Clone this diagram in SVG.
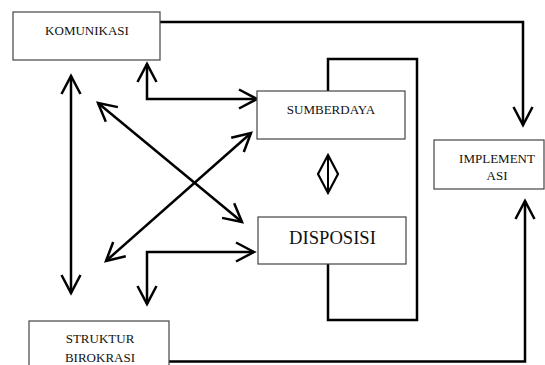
<svg xmlns="http://www.w3.org/2000/svg" width="545" height="365" viewBox="0 0 545 365">
<style>
.box{fill:#fff;stroke:#444;stroke-width:1.2}
.t{font-size:13px;fill:#111;text-anchor:middle}
.big{font-size:18.6px}
.c{fill:none;stroke:#000;stroke-width:2.5}
.a{marker-start:url(#ah);marker-end:url(#ah)}
.e{marker-end:url(#ah)}
</style>
<defs>
<marker id="ah" markerUnits="userSpaceOnUse" viewBox="-22 -12 24 24" markerWidth="24" markerHeight="24" refX="0" refY="0" orient="auto-start-reverse" overflow="visible">
<path d="M-18,-9.5 L0,0 L-18,9.5" fill="none" stroke="#000" stroke-width="2.5"/>
</marker>
</defs>
<g id="connectors">
<path class="c e" d="M160,22 H523 V125"/>
<path class="c e" d="M169,361.5 H525 V201"/>
<path class="c" d="M328,91 V59 H417 V320 H328 V264"/>
<path class="c a" d="M71,76 V293"/>
<path class="c a" d="M147,64 V99 H257"/>
<path class="c a" d="M98,103 L242,222"/>
<path class="c a" d="M106,261 L251,133"/>
<path class="c a" d="M147,304 V252 H254"/>
<g id="diamond">
<polygon points="328,155 338,174 328,193 318,174" fill="none" stroke="#000" stroke-width="2.2"/>
<line x1="328" y1="155" x2="328" y2="193" stroke="#000" stroke-width="2"/>
</g>
</g>
<g font-family="Liberation Serif, serif">
<g id="komunikasi">
<rect class="box" x="13" y="12" width="147" height="48"/>
<text class="t" x="87" y="35">KOMUNIKASI</text>
</g>
<g id="sumberdaya">
<rect class="box" x="257" y="91" width="148" height="48"/>
<text class="t" x="331" y="114">SUMBERDAYA</text>
</g>
<g id="disposisi">
<rect class="box" x="258" y="217" width="148" height="47"/>
<text class="t big" x="332.5" y="244">DISPOSISI</text>
</g>
<g id="implementasi">
<rect class="box" x="434" y="140" width="110" height="49"/>
<text class="t" x="497" y="163">IMPLEMENT</text>
<text class="t" x="497" y="180">ASI</text>
</g>
<g id="struktur">
<rect class="box" x="29" y="321" width="140" height="50"/>
<text class="t" x="100" y="343">STRUKTUR</text>
<text class="t" x="100" y="362">BIROKRASI</text>
</g>
</g>
</svg>
